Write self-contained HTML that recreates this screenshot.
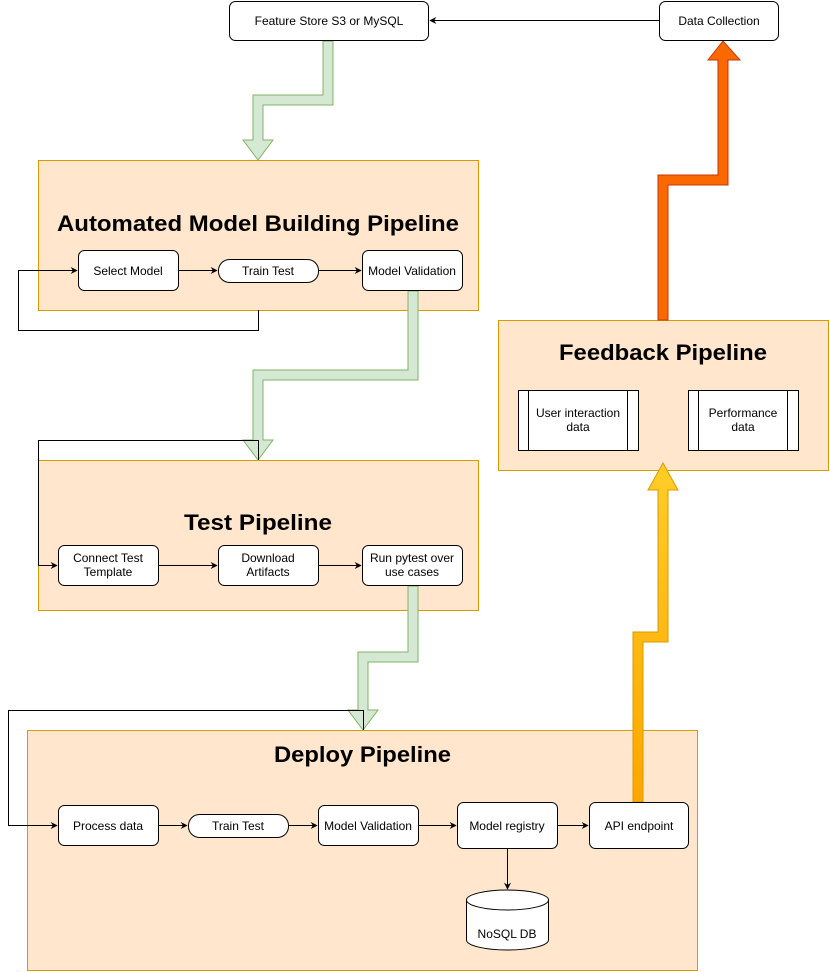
<!DOCTYPE html>
<html><head><meta charset="utf-8"><style>
html,body{margin:0;padding:0;background:#fff;}
svg{display:block;font-family:"Liberation Sans",sans-serif;}
</style></head><body>
<svg width="830" height="972" viewBox="0 0 830 972" xmlns="http://www.w3.org/2000/svg">
<defs>
<marker id="a" viewBox="0 0 10 10" refX="9" refY="5" markerWidth="7" markerHeight="7" orient="auto"><path d="M0,0 L10,5 L0,10 L3,5 z" fill="#000"/></marker>
<linearGradient id="yg" x1="0" y1="0" x2="0" y2="1"><stop offset="0" stop-color="#ffcd28"/><stop offset="1" stop-color="#ffa500"/></linearGradient>
</defs>
<g stroke="#d79b00" fill="#ffe6cc">
<rect x="38.5" y="160.5" width="440" height="150"/>
<rect x="38.5" y="460.5" width="440" height="150"/>
<rect x="27.5" y="730.5" width="670" height="240"/>
<rect x="498.5" y="320.5" width="330" height="150"/>
</g>
<g font-weight="bold" fill="#000" font-size="22">
<text x="57" y="231" textLength="402" lengthAdjust="spacingAndGlyphs">Automated Model Building Pipeline</text>
<text x="184" y="530" textLength="148" lengthAdjust="spacingAndGlyphs">Test Pipeline</text>
<text x="274" y="762" textLength="177" lengthAdjust="spacingAndGlyphs">Deploy Pipeline</text>
<text x="559" y="360" textLength="208" lengthAdjust="spacingAndGlyphs">Feedback Pipeline</text>
</g>
<g fill="#d5e8d4" stroke="#82b366">
<polygon points="323,41 333,41 333,105 263,105 263,140 273,140 258,160 243,140 253,140 253,95 323,95"/>
<polygon points="408,291 418,291 418,380 263,380 263,440 273,440 258,460 243,440 253,440 253,370 408,370"/>
<polygon points="408,586 418,586 418,662 368,662 368,710 378,710 363,730 348,710 358,710 358,652 408,652"/>
</g>
<polygon points="633,802 633,632 658,632 658,490 648,490 663,463 678,490 668,490 668,642 643,642 643,802" fill="url(#yg)" stroke="#d79b00"/>
<polygon points="658,320 658,175 718,175 718,60 708,60 723,41 740,60 728,60 728,185 668,185 668,320" fill="#fa6800" stroke="#c73500"/>
<g stroke="#000" fill="none" stroke-width="1">
<line x1="659" y1="20.5" x2="430" y2="20.5" marker-end="url(#a)"/>
<polyline points="258.5,310 258.5,330.5 18.5,330.5 18.5,270.5 77,270.5" marker-end="url(#a)"/>
<line x1="178" y1="270.5" x2="217" y2="270.5" marker-end="url(#a)"/>
<line x1="318" y1="270.5" x2="361" y2="270.5" marker-end="url(#a)"/>
<polyline points="258.5,460 258.5,440.5 38.5,440.5 38.5,565.5 57,565.5" marker-end="url(#a)"/>
<line x1="158" y1="565.5" x2="217" y2="565.5" marker-end="url(#a)"/>
<line x1="318" y1="565.5" x2="361" y2="565.5" marker-end="url(#a)"/>
<polyline points="363.5,730 363.5,710.5 8.5,710.5 8.5,825.5 57,825.5" marker-end="url(#a)"/>
<line x1="158" y1="825.5" x2="187" y2="825.5" marker-end="url(#a)"/>
<line x1="288" y1="825.5" x2="317" y2="825.5" marker-end="url(#a)"/>
<line x1="418" y1="825.5" x2="456" y2="825.5" marker-end="url(#a)"/>
<line x1="557" y1="825.5" x2="588" y2="825.5" marker-end="url(#a)"/>
<line x1="507.5" y1="848" x2="507.5" y2="889" marker-end="url(#a)"/>
</g>
<g fill="#fff" stroke="#000">
<rect x="229.5" y="1.5" width="199" height="39" rx="6"/>
<rect x="659.5" y="1.5" width="119" height="39" rx="6"/>
<rect x="78.5" y="250.5" width="100" height="40" rx="6"/>
<rect x="218.5" y="259.5" width="100" height="23" rx="11"/>
<rect x="362.5" y="250.5" width="100" height="40" rx="6"/>
<rect x="58.5" y="545.5" width="100" height="40" rx="6"/>
<rect x="218.5" y="545.5" width="100" height="40" rx="6"/>
<rect x="362.5" y="545.5" width="100" height="40" rx="6"/>
<rect x="58.5" y="805.5" width="100" height="40" rx="6"/>
<rect x="188.5" y="814.5" width="100" height="23" rx="11"/>
<rect x="318.5" y="805.5" width="100" height="40" rx="6"/>
<rect x="457.5" y="802.5" width="100" height="46" rx="6"/>
<rect x="589.5" y="802.5" width="99" height="46" rx="6"/>
<rect x="518.5" y="390.5" width="120" height="60"/>
<rect x="688.5" y="390.5" width="110" height="60"/>
<path d="M466.5,900 A41,10 0 0 1 548.5,900 L548.5,940 A41,10 0 0 1 466.5,940 Z"/>
</g>
<g stroke="#000" fill="none">
<line x1="528.5" y1="390" x2="528.5" y2="451"/><line x1="627.5" y1="390" x2="627.5" y2="451"/>
<line x1="698.5" y1="390" x2="698.5" y2="451"/><line x1="787.5" y1="390" x2="787.5" y2="451"/>
<path d="M466.5,900 A41,10 0 0 0 548.5,900"/>
</g>
<g font-size="12" text-anchor="middle" fill="#000">
<text x="329" y="25">Feature Store S3 or MySQL</text>
<text x="719" y="25">Data Collection</text>
<text x="128" y="275">Select Model</text>
<text x="268" y="275">Train Test</text>
<text x="412" y="275">Model Validation</text>
<text x="108" y="562">Connect Test</text><text x="108" y="576">Template</text>
<text x="268" y="562">Download</text><text x="268" y="576">Artifacts</text>
<text x="412" y="562">Run pytest over</text><text x="412" y="576">use cases</text>
<text x="108" y="830">Process data</text>
<text x="238" y="830">Train Test</text>
<text x="368" y="830">Model Validation</text>
<text x="507" y="830">Model registry</text>
<text x="639" y="830">API endpoint</text>
<text x="507" y="938">NoSQL DB</text>
<text x="578" y="417">User interaction</text><text x="578" y="431">data</text>
<text x="743" y="417">Performance</text><text x="743" y="431">data</text>
</g>
</svg>
</body></html>
